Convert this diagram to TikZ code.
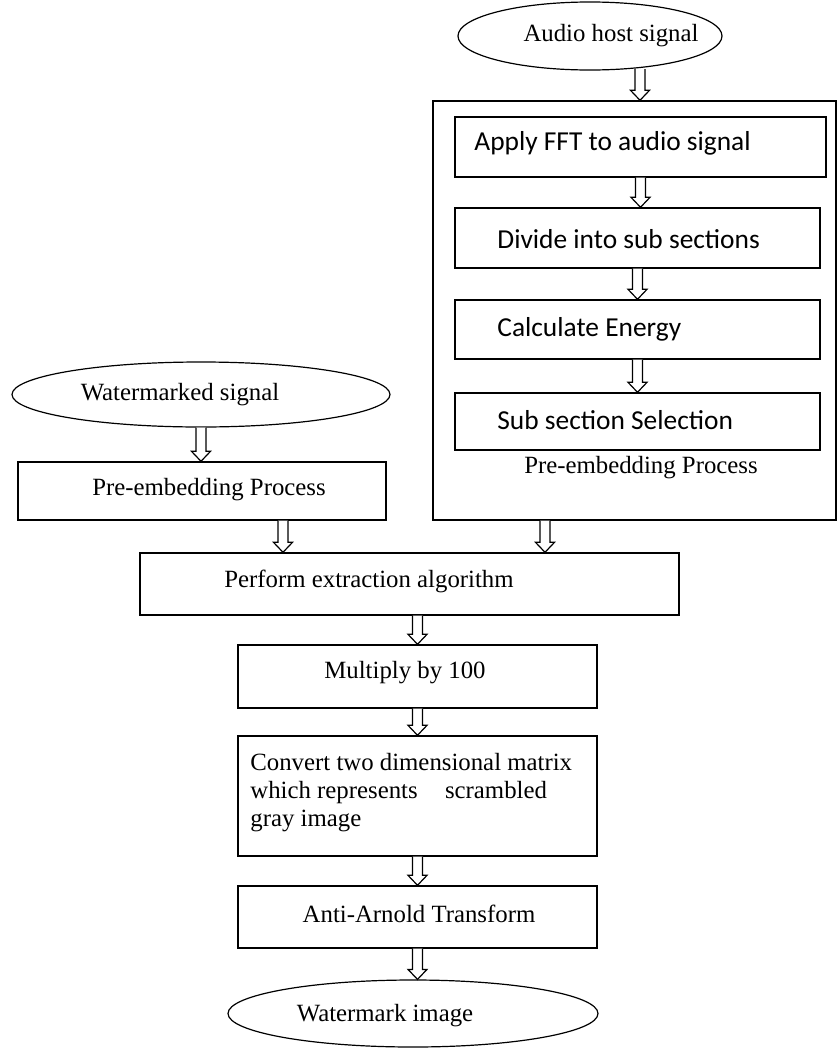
\documentclass[tikz,border=0pt]{standalone}
\usepackage{fontspec}
\setmainfont{Liberation Serif}
\newfontfamily\calibri{Carlito}
\usetikzlibrary{calc,positioning,shapes.geometric}
\tikzset{sbox/.style={draw,line width=0.7pt,rectangle,inner sep=0pt},
  frame/.style={draw,line width=0.7pt,rectangle,inner sep=0pt},
  oval/.style={draw,line width=0.6pt,ellipse,inner sep=0pt},
  tm/.style={inner sep=0pt,font=\fontsize{12.4}{14}\selectfont},
  tc/.style={inner sep=0pt,anchor=west,font=\calibri\fontsize{13.7}{16}\selectfont},
  hollow/.style={line width=0.6pt,fill=white}}
\newcommand\hollowarrow[2]{%
  \draw[hollow] let \p1=(#1), \p2=(#2) in
    (\x1-2.5pt,\y1) -- (\x1-2.5pt,\y2+5pt) -- (\x1-4.75pt,\y2+5pt) -- (\x1,\y2)
    -- (\x1+4.75pt,\y2+5pt) -- (\x1+2.5pt,\y2+5pt) -- (\x1+2.5pt,\y1);}

\begin{document}
\begin{tikzpicture}[x=0.5pt,y=-0.5pt]
      \useasboundingbox (0,0) rectangle (837,1050);
      \node [oval, minimum width=132pt, minimum height=34pt] (audio) at (590,36) {};
      \node [frame, minimum width=201.5pt, minimum height=209.5pt] (big) at (634.5,310.5) {};
      \node [sbox, minimum width=185.5pt, minimum height=30pt] (fft) at (640.5,147) {};
      \node [sbox, minimum width=182.5pt, minimum height=30pt] (divide) at (637.5,238) {};
      \node [sbox, minimum width=182.5pt, minimum height=29.5pt] (energy) at (637.5,329.5) {};
      \node [sbox, minimum width=182.5pt, minimum height=28.5pt] (select) at (637.5,421.5) {};
      \node [oval, minimum width=189pt, minimum height=32.5pt] (wsig) at (201,394.5) {};
      \node [sbox, minimum width=184pt, minimum height=29pt] (pre) at (202,491) {};
      \node [sbox, minimum width=269.5pt, minimum height=31pt] (extract) at (409.5,584) {};
      \node [sbox, minimum width=179.5pt, minimum height=31.5pt] (multiply) at (417.5,676.5) {};
      \node [sbox, minimum width=179.5pt, minimum height=60pt] (convert) at (417.5,796) {};
      \node [sbox, minimum width=179.5pt, minimum height=31pt] (anti) at (417.5,917) {};
      \node [oval, minimum width=185pt, minimum height=33.5pt] (wimg) at (413,1013.5) {};

      \node [tm] (audioT) at (611,36) {Audio host signal};
      \node [tc] (fftT) at (474,143) {Apply FFT to audio signal};
      \node [tc] (divideT) at (497,239) {Divide into sub sections};
      \node [tc] (energyT) at (497,329) {Calculate Energy};
      \node [tc] (selectT) at (497,420) {Sub section Selection};
      \node [tm] (bigT) at (641,468) {Pre-embedding Process};
      \node [tm] (wsigT) at (180,395) {Watermarked signal};
      \node [tm] (preT) at (209,490) {Pre-embedding Process};
      \node [tm] (extractT) at (369,581) {Perform extraction algorithm};
      \node [tm] (multiplyT) at (405,673) {Multiply by 100};
      \node [tm, anchor=north west, align=left] (convertT) at (250,753)
        {Convert two dimensional matrix\\which represents\hspace{1.1em}scrambled\\gray image};
      \node [tm] (antiT) at (419,914) {Anti-Arnold Transform};
      \node [tm] (wimgT) at (385,1016) {Watermark image};

      \coordinate (a0) at (640,69);
      \coordinate (a5) at ($(pre.south)+(81,0)$);
      \coordinate (a6) at ($(big.south)+(-89.5,0)$);
      \hollowarrow{a0}{a0 |- big.north}
      \hollowarrow{fft.south}{fft.south |- divide.north}
      \hollowarrow{divide.south}{divide.south |- energy.north}
      \hollowarrow{energy.south}{energy.south |- select.north}
      \hollowarrow{wsig.south}{wsig.south |- pre.north}
      \hollowarrow{a5}{a5 |- extract.north}
      \hollowarrow{a6}{a6 |- extract.north}
      \hollowarrow{extract.south -| multiply.north}{multiply.north}
      \hollowarrow{multiply.south}{convert.north}
      \hollowarrow{convert.south}{anti.north}
      \hollowarrow{anti.south}{anti.south |- wimg.north}
    \end{tikzpicture}
\end{document}
